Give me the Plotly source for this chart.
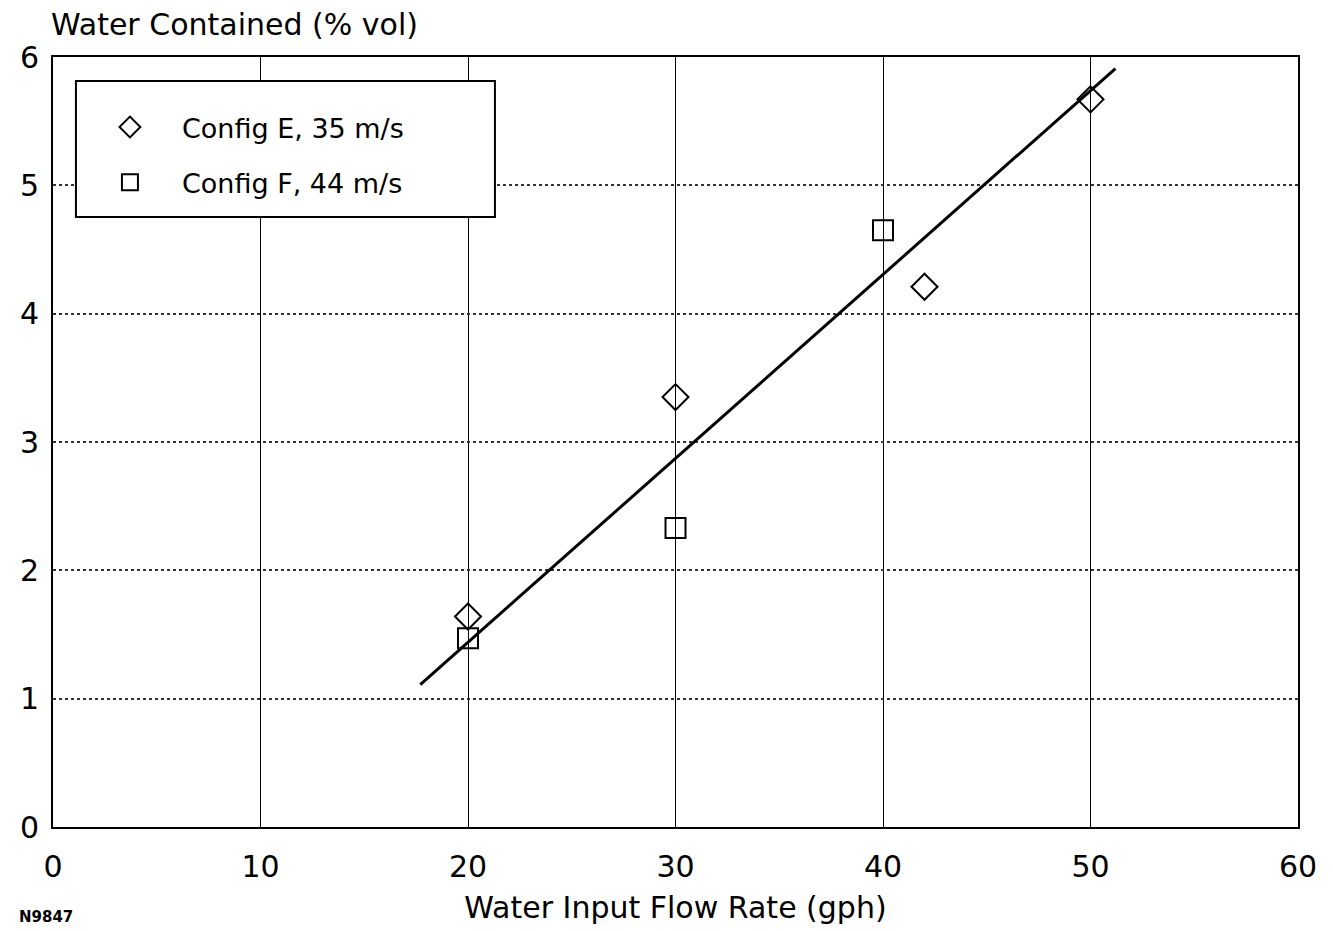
import plotly.graph_objects as go

# Data
e_x = [20, 30, 42, 50]
e_y = [1.64, 3.35, 4.21, 5.67]
f_x = [20, 30, 40]
f_y = [1.47, 2.33, 4.65]
fit_x = [17.7, 51.2]
fit_y = [1.11, 5.91]

x_ticks = [0, 10, 20, 30, 40, 50, 60]
y_ticks = [0, 1, 2, 3, 4, 5, 6]

FONT = "DejaVu Sans"

# page has an 8px body margin; figure is sized to fit inside the window
W, H = 1325, 923
L, R, T, B = 42, 35, 49, 104
PW, PH = W - L - R, H - T - B   # 1248 x 770


def px(xo):  # original-picture x -> paper
    return (xo - 8 - L) / PW


def py(yo):  # original-picture y -> paper
    return (8 + T + PH - yo) / PH


fig = go.Figure()
fig.add_trace(go.Scatter(
    x=e_x, y=e_y, mode="markers", name="Config E, 35 m/s", legendgroup="e",
    marker=dict(symbol="diamond-open", size=20, color="black", line=dict(width=2, color="black")),
))
fig.add_trace(go.Scatter(
    x=f_x, y=f_y, mode="markers", name="Config F, 44 m/s", legendgroup="f",
    marker=dict(symbol="square-open", size=20, color="black", line=dict(width=2, color="black")),
))
fig.add_trace(go.Scatter(
    x=fit_x, y=fit_y, mode="lines", showlegend=False,
    line=dict(color="black", width=3),
))

fig.update_layout(
    width=W, height=H,
    margin=dict(l=L, r=R, t=T, b=B),
    paper_bgcolor="white", plot_bgcolor="white",
    font=dict(family=FONT, color="black", size=30),
    showlegend=True,
    legend=dict(
        x=px(75), y=py(103), xanchor="left", yanchor="top",
        bgcolor="rgba(0,0,0,0)", borderwidth=0,
        font=dict(size=27, family=FONT),
        tracegroupgap=17, traceorder="grouped",
        itemwidth=94,
    ),
    shapes=[dict(
        type="rect", xref="paper", yref="paper",
        x0=px(73), x1=px(493), y0=py(217), y1=py(81),
        line=dict(color="black", width=2), fillcolor="white", layer="above",
    )],
    annotations=[
        dict(text="Water Contained (% vol)", xref="paper", yref="paper",
             x=px(46), y=py(25), xanchor="left", yanchor="middle",
             showarrow=False, font=dict(size=30, family=FONT)),
        dict(text="<b>N9847</b>", xref="paper", yref="paper",
             x=px(14), y=py(917), xanchor="left", yanchor="middle",
             showarrow=False, font=dict(size=15, family=FONT)),
    ],
)

fig.update_xaxes(
    range=[0, 60], tickvals=x_ticks, ticktext=[str(v) for v in x_ticks],
    showgrid=True, gridcolor="black", gridwidth=1,
    showline=True, linecolor="black", linewidth=2, mirror=True,
    zeroline=False, ticks="", ticklabelstandoff=12,
    title=dict(text="Water Input Flow Rate (gph)", standoff=14, font=dict(size=30)),
    tickfont=dict(size=30),
)
fig.update_yaxes(
    range=[0, 6], tickvals=y_ticks, ticktext=[str(v) for v in y_ticks],
    showgrid=True, gridcolor="#333333", gridwidth=1.5, griddash="dot",
    showline=True, linecolor="black", linewidth=2, mirror=True,
    zeroline=False, ticks="", ticklabelstandoff=6,
    tickfont=dict(size=30),
)

fig.write_html("out.html")
